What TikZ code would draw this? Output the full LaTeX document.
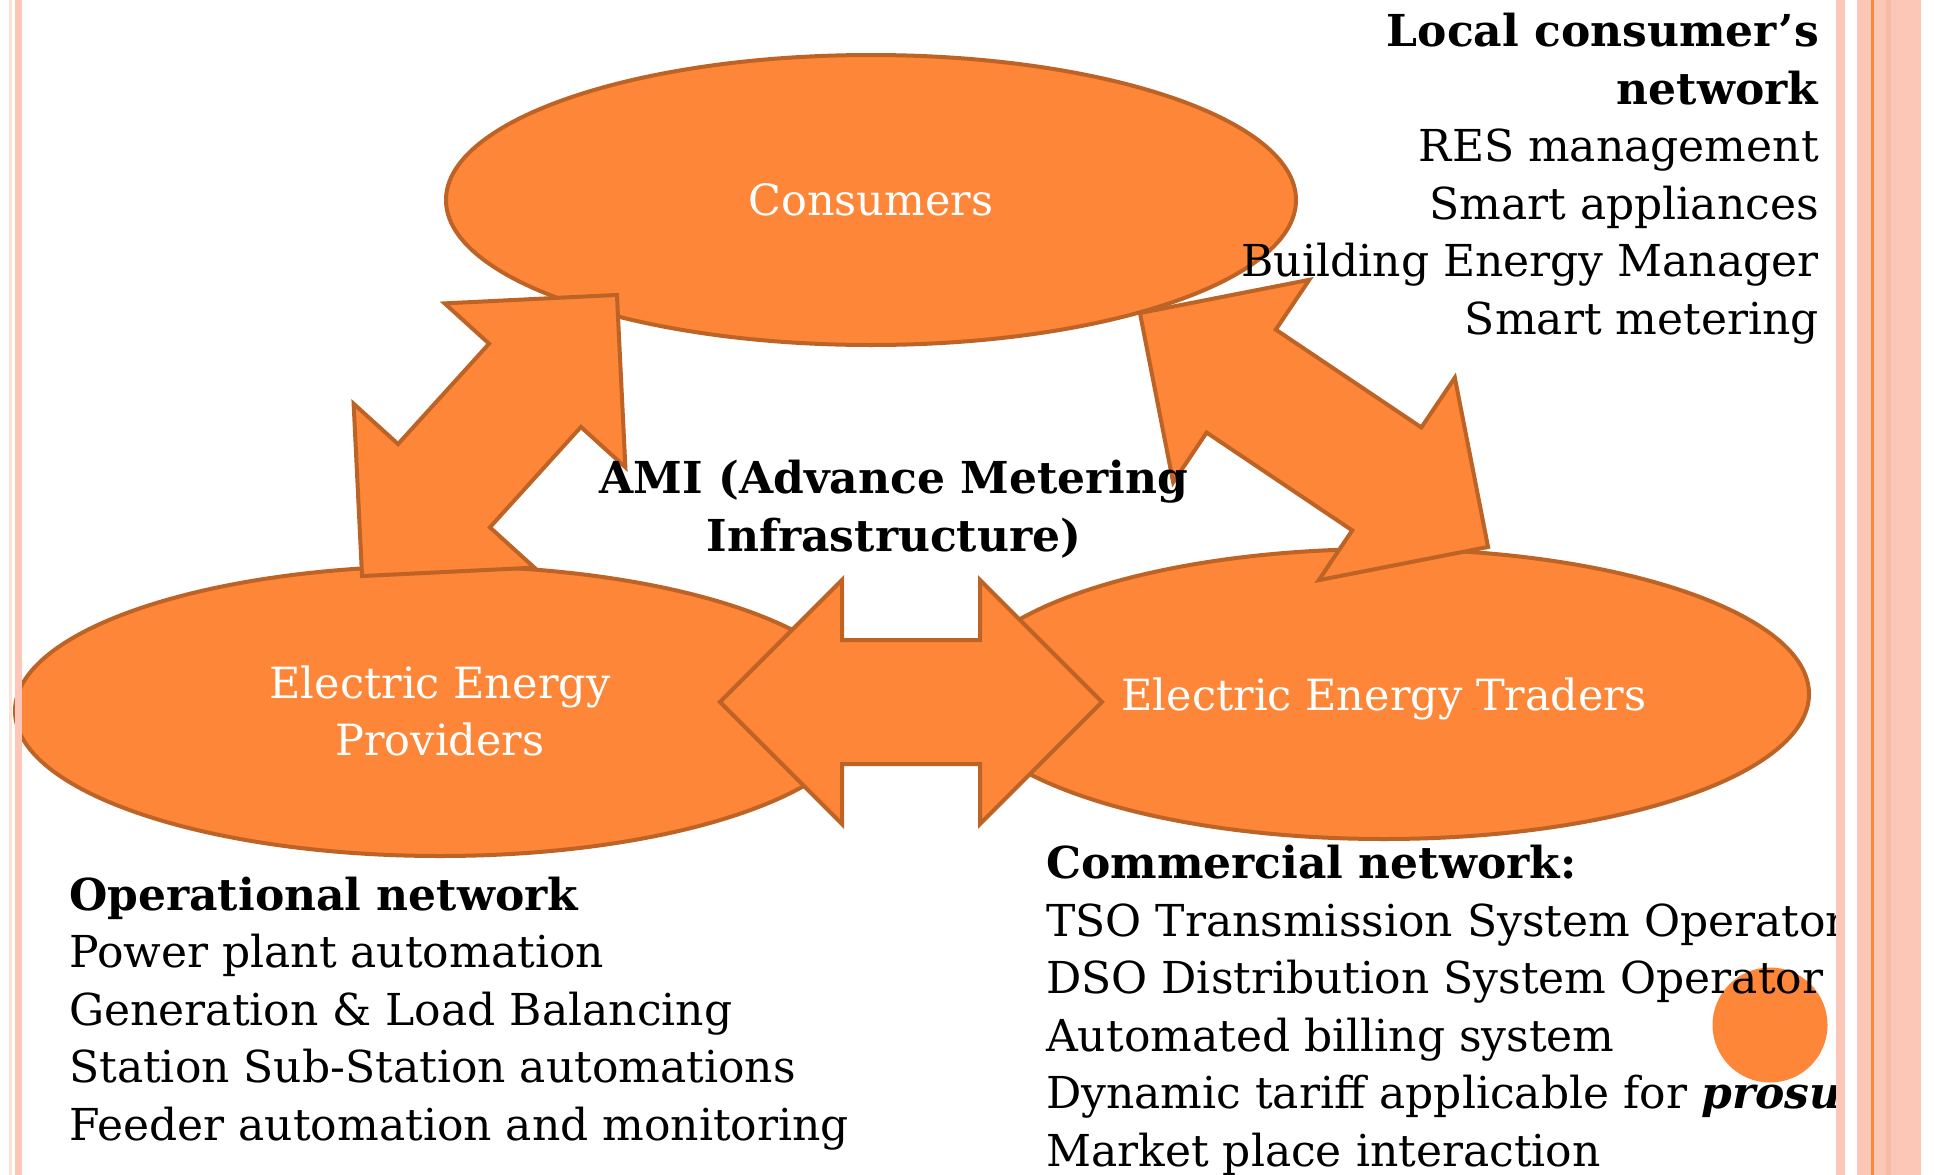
\documentclass[tikz,border=0pt]{standalone}
\usepackage{fontspec}
\setmainfont{DejaVu Serif}
\usetikzlibrary{shapes.geometric,shapes.arrows}
\definecolor{blob}{RGB}{253,134,56}
\definecolor{blobline}{RGB}{190,99,38}
\definecolor{stripe}{RGB}{252,199,182}
\definecolor{stripelight}{RGB}{254,224,213}
\definecolor{stripedark}{RGB}{249,186,163}
\definecolor{stripeline}{RGB}{247,138,60}
\begin{document}
\begin{tikzpicture}[x=1pt,y=-1pt,
    blobnode/.style={ellipse,draw=blobline,fill=blob,line width=4pt,minimum width=850pt,minimum height=290pt,text=white,align=center,font=\fontsize{43}{57.5}\selectfont},
    biarrow/.style={double arrow,draw=blobline,fill=blob,line width=4pt,double arrow head extend=60pt,inner xsep=0pt,inner ysep=60pt,minimum height=#1},
    txt/.style={inner sep=0pt,font=\fontsize{44}{57.5}\selectfont}]
    \fill[white] (0,0) rectangle (1941,1175);
    \useasboundingbox (0,0) rectangle (1941,1175);

    \node (1) at (871,200) [blobnode,text depth=0pt] {Consumers};
    \node (2) at (440,711) [blobnode] {Electric Energy\\Providers};
    \node (3) at (1384,694) [blobnode,text depth=0pt] {Electric Energy Traders};

    \node (4) at (489.5,435.5) [biarrow=379.5pt,rotate=47.8] {};
    \node (5) at (1314,430) [biarrow=419.4pt,rotate=-33.9] {};
    \node (6) at (911,702) [biarrow=382pt] {};

    \node (7) at (1770,1025) [circle,fill=blob,minimum size=115pt,inner sep=0pt] {};

    \node (8) at (1819,334) [txt,anchor=base east,align=right] {\textbf{Local consumer's}\\\textbf{network}\\RES management\\Smart appliances\\Building Energy Manager\\Smart metering};
    \node (9) at (894,551) [txt,anchor=base,align=center] {\textbf{AMI (Advance Metering}\\\textbf{Infrastructure)}};
    \node (10) at (69,1140) [txt,anchor=base west,align=left] {\textbf{Operational network}\\Power plant automation\\Generation \& Load Balancing\\Station Sub-Station automations\\Feeder automation and monitoring};
    \node (11) at (1046,1166) [txt,anchor=base west,align=left] {\textbf{Commercial network:}\\TSO Transmission System Operator\\DSO Distribution System Operator\\Automated billing system\\Dynamic tariff applicable for \textbf{\textit{prosumer}}\\Market place interaction};

    \fill[stripelight] (9,0) rectangle (12,1175);
    \fill[stripe] (15,0) rectangle (22,1175);
    \fill[white] (1836,0) rectangle (1941,1175);
    \fill[stripe] (1836,0) rectangle (1845,1175);
    \fill[stripe] (1857,0) rectangle (1921,1175);
    \fill[stripedark] (1886,0) rectangle (1891,1175);
    \fill[stripeline] (1871,0) rectangle (1873.5,1175);

  \end{tikzpicture}
\end{document}
